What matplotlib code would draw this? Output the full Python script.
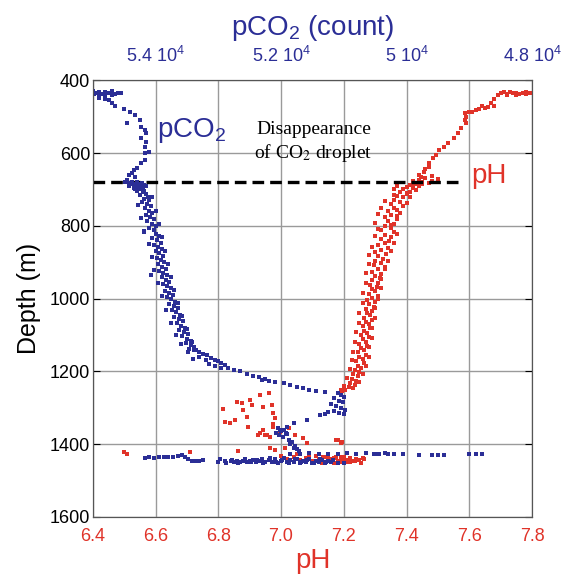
import matplotlib
matplotlib.use("Agg")
import matplotlib.pyplot as plt

plt.rcParams['font.family'] = ['Liberation Sans', 'DejaVu Sans']
plt.rcParams['mathtext.fontset'] = 'custom'
plt.rcParams['mathtext.rm'] = 'Liberation Sans'
plt.rcParams['mathtext.it'] = 'Liberation Sans:italic'

BLUE = '#2b2e96'
RED = '#e03329'

# pCO2 profile (count, depth m)
pco2_count = [
    55000, 54950, 54900, 54850, 54800, 54750, 54700, 54650, 54600, 54550, 54900, 54800, 54980, 54700,
    54900, 54800, 54750, 54700, 54650,
    54500, 54400, 54325, 54450, 54250, 54225, 54175, 54150, 54225, 54150, 54175, 54100, 54175, 54175,
    54225, 54300, 54350, 54375, 54425, 54325, 54450,
    54480, 54420, 54380, 54350, 54300, 54260, 54220, 54180, 54300, 54250, 54200, 54350, 54400, 54150,
    54230, 54280, 54190,
    54200, 54150, 54250, 54120, 54180, 54100, 54220, 54140, 54080, 54170, 54110, 54050, 54150, 54090,
    54020, 54130, 54060, 53990, 54100, 54030, 54180,
    54000, 53950, 54050, 53980, 53920, 54020, 53960, 53900, 54000, 53940, 53880, 53980, 53920, 53860,
    53960, 53900, 53840, 53940, 54070, 53880, 53820, 53900, 53840, 53780, 53880, 53810, 53760, 53850,
    53780, 53720, 53820, 53750, 53690, 53780, 53710, 53650, 53740, 53670, 53610, 53700, 53630, 53570,
    53660, 53590, 53530, 53620, 53540, 53480, 53580, 53500, 53430, 53520, 53440, 53380, 53460, 53380,
    53310, 53250, 53180, 53120, 53050, 53000, 52950, 52900,
    52850, 52750, 52650, 52550, 52450, 52350, 52250,
    52300, 52200, 52100, 51950, 51850, 51750, 51650, 51550, 51450, 51300,
    51100, 51050, 51000, 51150, 51080, 51020, 51200, 51120, 51050, 50980, 51150, 51080, 51000, 51250, 51300,
    51375, 51580, 51800, 51900, 52015,
    52050, 51950, 52000, 51920, 52030, 51970, 51900, 52080,
    51880, 51820, 51850, 51780, 51750, 51720, 51800,
    54170, 54100, 54030, 53950, 53870, 53800, 53720, 53650, 53580, 53530, 53480, 53420,
    53350, 53300, 53250,
    53000, 52900, 52800, 52750, 52700, 52650, 52600, 52550, 52500, 52450, 52400, 52350, 52300, 52250,
    52200, 52150, 52100, 52050, 52000, 51950, 51900, 51850, 51800, 51750, 51700, 51650, 51600, 51550,
    51500, 51450, 51400, 51350, 51300, 51250, 51200, 51100, 51000,
    51850, 51700, 51550, 51400, 51250, 51100, 50950, 50800, 50650, 50500, 50350, 50200,
    50520, 50440, 50300, 50050, 49800, 49600, 49500, 49400, 49000, 48900, 48800,
    54300, 54050, 54280, 54000, 54230, 53950, 54180, 53900, 54100, 53850, 54060, 53800, 54020, 53760,
    53960, 53700, 53900, 53640, 53830, 53580, 53760, 53500, 53680, 53420, 53600, 53350, 53480, 53300,
    53400, 53200, 53150, 53050, 52950, 54350, 54420, 54320,
    52980, 52880, 52780, 52680, 52580, 52480, 52380, 52280, 52180, 52080, 51980, 51880, 51780, 51680,
    51580, 51480, 51380, 51280, 51180,
]
pco2_depth = [
    430, 436, 432, 438, 433, 436, 431, 437, 434, 435, 440, 442, 438, 440,
    450, 452, 455, 462, 470,
    480, 488, 496, 518, 510, 529, 537, 546, 559, 570, 584, 598, 600, 620,
    628, 642, 647, 655, 661, 666, 675,
    680, 682, 679, 684, 681, 686, 683, 688, 690, 693, 696, 688, 686, 692,
    700, 698, 704,
    708, 712, 716, 720, 725, 730, 735, 740, 746, 752, 758, 764, 770, 776,
    782, 788, 794, 800, 806, 812, 817,
    822, 828, 834, 840, 846, 852, 858, 864, 870, 876, 882, 888, 894, 900,
    906, 912, 918, 924, 935, 930, 936, 942, 948, 954, 960, 966, 972, 978,
    984, 990, 996, 1002, 1008, 1014, 1020, 1026, 1032, 1038, 1044, 1050, 1056, 1062,
    1068, 1074, 1080, 1086, 1092, 1098, 1104, 1110, 1116, 1122, 1128, 1134, 1138, 1142,
    1148, 1152, 1156, 1162, 1168, 1172, 1178, 1183,
    1190, 1195, 1200, 1206, 1212, 1216, 1220,
    1224, 1227, 1230, 1233, 1238, 1242, 1246, 1250, 1254, 1257,
    1260, 1265, 1270, 1272, 1280, 1285, 1290, 1295, 1300, 1305, 1308, 1313, 1318, 1312, 1318,
    1320, 1334, 1342, 1353, 1361,
    1355, 1360, 1365, 1370, 1375, 1380, 1372, 1368,
    1388, 1395, 1400, 1405, 1412, 1418, 1410,
    1437, 1436, 1437, 1436, 1436, 1435, 1434, 1433, 1431, 1435, 1440, 1445,
    1446, 1447, 1443,
    1448, 1446, 1447, 1449, 1445, 1448, 1446, 1450, 1447, 1444, 1449, 1446, 1442, 1450,
    1444, 1448, 1440, 1452, 1446, 1438, 1450, 1443, 1448, 1440, 1452, 1445, 1449, 1442,
    1451, 1446, 1450, 1444, 1452, 1447, 1450, 1451, 1452,
    1426, 1427, 1425, 1426, 1427, 1426, 1425, 1426, 1425, 1426, 1425, 1426,
    1427, 1428, 1427, 1428, 1429, 1429, 1429, 1429, 1428, 1428, 1428,
    705, 722, 744, 760, 778, 796, 814, 832, 850, 868, 886, 904, 922, 940,
    958, 976, 994, 1012, 1030, 1048, 1066, 1084, 1100, 1118, 1126, 1140, 1148, 1160,
    1166, 1170, 1180, 1185, 1190, 695, 690, 700,
    1442, 1451, 1444, 1452, 1441, 1450, 1443, 1452, 1439, 1449, 1444, 1452, 1441, 1450,
    1443, 1452, 1440, 1449, 1444,
]

# pH profile (pH, depth m)
ph_value = [
    7.70, 7.71, 7.72, 7.73, 7.74, 7.75, 7.76, 7.77, 7.78, 7.79, 7.80, 7.72, 7.75, 7.78,
    7.69, 7.68, 7.67, 7.68, 7.66,
    7.65, 7.63, 7.62, 7.61, 7.60, 7.64,
    7.585, 7.59, 7.585, 7.59, 7.575, 7.565, 7.55, 7.533, 7.52, 7.505, 7.495, 7.485, 7.472, 7.47,
    7.457, 7.447, 7.44, 7.46,
    7.46, 7.44, 7.42, 7.45, 7.43, 7.41, 7.44, 7.40, 7.42, 7.39, 7.43, 7.41, 7.38, 7.40, 7.45, 7.42,
    7.40, 7.37, 7.39, 7.36, 7.38, 7.35, 7.39, 7.36, 7.34, 7.38, 7.35, 7.33, 7.37, 7.34, 7.36, 7.33,
    7.35, 7.32, 7.36, 7.33, 7.35,
    7.32, 7.345, 7.33, 7.31, 7.34, 7.32, 7.30, 7.335, 7.31, 7.325, 7.30, 7.32, 7.295, 7.33, 7.31,
    7.29, 7.32, 7.30, 7.315, 7.29, 7.31, 7.285, 7.305, 7.29, 7.30, 7.28, 7.31, 7.29, 7.275, 7.30,
    7.28, 7.295, 7.27, 7.29, 7.275, 7.285, 7.265, 7.29, 7.27, 7.28, 7.26, 7.285, 7.265, 7.275,
    7.255, 7.28, 7.26, 7.27, 7.25, 7.275, 7.255, 7.265, 7.245, 7.27, 7.25, 7.26, 7.24, 7.265,
    7.245, 7.255, 7.235, 7.25, 7.23, 7.245, 7.225, 7.24, 7.22, 7.235, 7.215, 7.205, 7.195,
    6.815, 6.82, 6.837, 6.853, 6.858, 6.874, 6.879, 6.89, 6.895, 6.906, 6.90, 6.933, 6.943, 6.96,
    6.97, 6.975, 6.98, 6.975, 6.933, 6.949, 6.965, 6.997, 7.024, 7.045, 7.083, 7.18, 7.195,
    6.863, 6.965, 6.98, 7.013, 6.943, 6.955, 6.925, 6.975, 7.174, 7.19, 7.071, 7.083,
    7.00, 7.02, 7.04, 7.06, 7.08, 7.10, 7.11, 7.12, 7.13, 7.14, 7.15, 7.16, 7.17, 7.18, 7.19,
    7.20, 7.21, 7.22, 7.23, 7.24, 7.25, 7.26, 7.265, 7.13, 7.17, 7.21, 7.15, 7.19, 7.05, 7.09,
    6.50, 6.51, 6.71,
    7.36, 7.41, 7.33, 7.40, 7.32, 7.37, 7.31, 7.37, 7.30, 7.35, 7.31, 7.37, 7.30, 7.36, 7.29,
    7.35, 7.28, 7.34, 7.28, 7.33, 7.27, 7.32, 7.27, 7.32, 7.26, 7.31, 7.26, 7.30, 7.25, 7.30,
    7.25, 7.29, 7.24, 7.29, 7.235, 7.28, 7.23, 7.28, 7.225, 7.27, 7.22, 7.26, 7.21, 7.25, 7.20,
    7.23, 7.19, 7.48, 7.47, 7.37, 7.36, 7.50, 7.48,
    7.12, 7.14, 7.16, 7.18, 7.20, 7.22, 7.24, 7.255, 7.135, 7.155, 7.175, 7.195, 7.215, 7.235,
]
ph_depth = [
    435, 432, 437, 433, 436, 434, 438, 435, 437, 436, 436, 440, 440, 433,
    442, 452, 462, 470, 474,
    476, 480, 483, 486, 488, 472,
    491, 500, 510, 518, 532, 546, 559, 573, 584, 592, 606, 614, 628, 639,
    653, 666, 660, 645,
    670, 674, 678, 680, 684, 688, 690, 694, 696, 700, 702, 706, 708, 710, 684, 686,
    714, 718, 722, 728, 734, 740, 746, 752, 758, 764, 770, 776, 782, 788, 794, 800,
    806, 812, 818, 824, 830,
    836, 842, 848, 854, 860, 866, 872, 878, 884, 890, 896, 902, 908, 914, 920,
    926, 932, 938, 944, 950, 956, 962, 968, 974, 980, 986, 992, 998, 1004, 1010,
    1016, 1022, 1028, 1034, 1040, 1046, 1052, 1058, 1064, 1070, 1076, 1082, 1088, 1094,
    1100, 1106, 1112, 1118, 1124, 1130, 1136, 1142, 1148, 1154, 1160, 1166, 1172, 1178,
    1184, 1190, 1196, 1202, 1208, 1214, 1220, 1226, 1232, 1238, 1244, 1250, 1254,
    1302, 1338, 1343, 1334, 1283, 1288, 1306, 1325, 1352, 1292, 1279, 1265, 1297, 1260,
    1292, 1315, 1329, 1352, 1370, 1375, 1380, 1366, 1356, 1375, 1398, 1389, 1393,
    1420, 1411, 1416, 1411, 1361, 1374, 1374, 1345, 1389, 1397, 1383, 1397,
    1432, 1440, 1436, 1444, 1438, 1446, 1432, 1440, 1448, 1436, 1444, 1450, 1438, 1446, 1434,
    1442, 1450, 1438, 1446, 1440, 1444, 1438, 1442, 1452, 1452, 1444, 1438, 1448, 1428, 1430,
    1421, 1428, 1421,
    716, 720, 732, 738, 750, 756, 768, 774, 792, 798, 810, 822, 828, 848, 858,
    870, 880, 896, 906, 920, 930, 946, 958, 970, 984, 1000, 1012, 1026, 1040, 1054,
    1066, 1080, 1092, 1108, 1120, 1134, 1146, 1160, 1170, 1186, 1194, 1208, 1218, 1230, 1240,
    1246, 1250, 676, 682, 690, 700, 672, 664,
    1445, 1449, 1441, 1452, 1436, 1448, 1441, 1451, 1434, 1442, 1435, 1440, 1449, 1447,
]

ph_ticks = [6.4, 6.6, 6.8, 7.0, 7.2, 7.4, 7.6, 7.8]
pco2_ticks = [54000, 52000, 50000, 48000]
pco2_labels = ['5.4 10$^{4}$', '5.2 10$^{4}$', '5 10$^{4}$', '4.8 10$^{4}$']
depth_ticks = [400, 600, 800, 1000, 1200, 1400, 1600]
droplet_depth = 680

fig = plt.figure(figsize=(5.66, 5.77), dpi=100)
ax = fig.add_axes([0.164, 0.104, 0.776, 0.757])

ax.set_xlim(6.4, 7.8)
ax.set_ylim(1600, 400)
ax.set_xticks(ph_ticks)
ax.set_xticklabels(['%.1f' % t for t in ph_ticks])
ax.set_yticks(depth_ticks)
ax.grid(True, color='#9a9a9a', linewidth=1.0)
ax.set_axisbelow(True)
ax.tick_params(axis='x', colors=RED, labelsize=13, direction='in', length=0, pad=8)
ax.tick_params(axis='y', labelsize=13, direction='in', length=5, right=True, pad=2)
for s in ax.spines.values():
    s.set_color('#555555')
ax.set_xlabel('pH', color=RED, fontsize=20, labelpad=2)
ax.set_ylabel('Depth (m)', fontsize=18, labelpad=6)

ax.plot(ph_value, ph_depth, linestyle='none', marker='s', ms=2.7, mew=0, color=RED)

ax2 = ax.twiny()
ax2.set_xlim(55000, 48000)
ax2.set_xticks(pco2_ticks)
ax2.set_xticklabels(pco2_labels)
ax2.tick_params(axis='x', colors=BLUE, labelsize=13, length=0, pad=10)
for s in ax2.spines.values():
    s.set_color('#555555')
ax2.set_xlabel('pCO$_2$ (count)', color=BLUE, fontsize=20, labelpad=8)
ax2.plot(pco2_count, pco2_depth, linestyle='none', marker='s', ms=2.7, mew=0, color=BLUE)

ax.plot([6.4, 7.57], [droplet_depth, droplet_depth], color='black', linewidth=2.4,
        dashes=(3.5, 1.8), zorder=5)

ax.text(6.605, 557, 'pCO$_2$', color=BLUE, fontsize=20, ha='left', va='baseline')
ax.text(7.605, 664, 'pH', color=RED, fontsize=20, ha='left', va='center')
ax.text(7.103, 572, 'Disappearance\nof CO$_2$ droplet', family='Liberation Serif',
        fontsize=14, ha='center', va='center', linespacing=1.25,
        math_fontfamily='stix')

fig.savefig('out.png', dpi=100)
